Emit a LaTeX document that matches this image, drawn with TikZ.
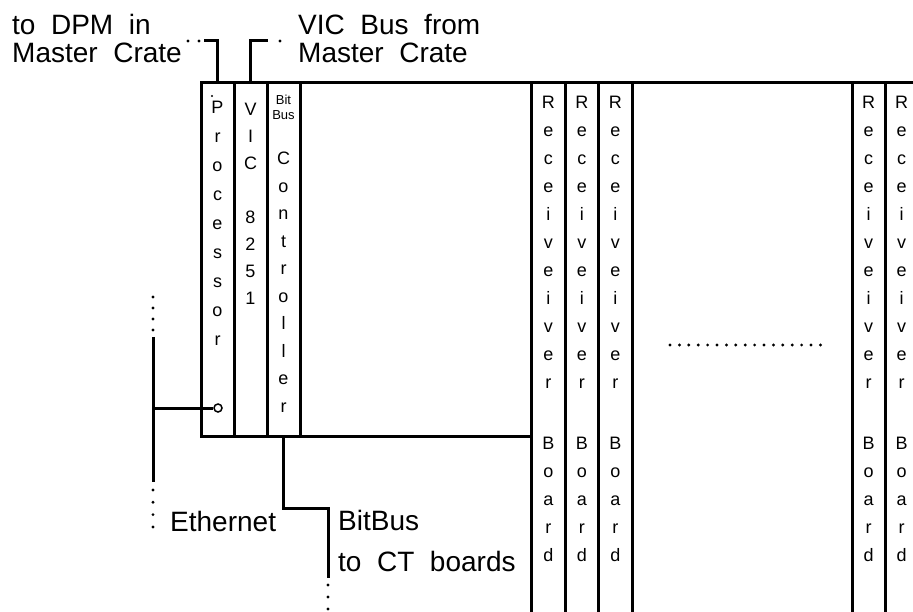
\documentclass[tikz,border=0pt]{standalone}
\usepackage{fontspec}
\setmainfont[WordSpace=2]{Liberation Sans}
\usetikzlibrary{positioning}

\begin{document}
\begin{tikzpicture}[x=1pt, y=-1pt, every node/.style={inner sep=0pt}, wire/.style={line width=3pt}, slot/.style={draw, line width=3pt, outer sep=0pt, minimum width=33pt}, lbl/.style={anchor=base west, font=\fontsize{28}{28}\selectfont}, letters/.style={anchor=north, align=center, font=\fontsize{18}{#1}\selectfont}, dotrow/.style={line width=3.2pt, line cap=round, dash pattern=on 0pt off #1}, port/.style={circle, draw, line width=1.5pt, minimum size=8pt}]
\useasboundingbox (0,0) rectangle (913,612);
% crate slots
\node[slot, minimum height=353pt] (proc) at (217.5,259.5) {};
\node[slot, minimum height=353pt, right=0pt of proc] (vic) {};
\node[slot, minimum height=353pt, right=0pt of vic] (ctrl) {};
\node[slot, minimum height=557pt, minimum width=33.5pt] (rx1) at (548.25,361.5) {};
\node[slot, minimum height=557pt, minimum width=33.5pt, right=0pt of rx1] (rx2) {};
\node[slot, minimum height=557pt, minimum width=33.5pt, right=0pt of rx2] (rx3) {};
\node[slot, minimum height=557pt] (rx4) at (868.5,361.5) {};
\node[slot, minimum height=557pt, right=0pt of rx4] (rx5) {};
\draw[wire] (proc.north west) -- (930,83);
\draw[wire] (proc.south west) -- (rx1.west |- proc.south);
% slot texts
\node[letters=29] (proctxt) at ([shift={(0,18)}]proc.north) {P\\r\\o\\c\\e\\s\\s\\o\\r};
\node[letters=27] (victxt) at ([shift={(0,20)}]vic.north) {V\\I\\C\\[27pt]8\\2\\5\\1};
\node[anchor=north, align=center, font=\fontsize{13}{15}\selectfont] (bbtxt) at ([shift={(0,12)}]ctrl.north) {Bit\\Bus};
\node[letters=27.5] (ctrltxt) at ([shift={(0,69)}]ctrl.north) {C\\o\\n\\t\\r\\o\\l\\l\\e\\r};
\node[letters=28] (rx1txt) at ([shift={(0,13)}]rx1.north) {R\\e\\c\\e\\i\\v\\e\\i\\v\\e\\r\\[33pt]B\\o\\a\\r\\d};
\node[letters=28] (rx2txt) at ([shift={(0,13)}]rx2.north) {R\\e\\c\\e\\i\\v\\e\\i\\v\\e\\r\\[33pt]B\\o\\a\\r\\d};
\node[letters=28] (rx3txt) at ([shift={(0,13)}]rx3.north) {R\\e\\c\\e\\i\\v\\e\\i\\v\\e\\r\\[33pt]B\\o\\a\\r\\d};
\node[letters=28] (rx4txt) at ([shift={(0,13)}]rx4.north) {R\\e\\c\\e\\i\\v\\e\\i\\v\\e\\r\\[33pt]B\\o\\a\\r\\d};
\node[letters=28] (rx5txt) at ([shift={(0,13)}]rx5.north) {R\\e\\c\\e\\i\\v\\e\\i\\v\\e\\r\\[33pt]B\\o\\a\\r\\d};
\fill (212,96) circle (1.2pt);
\draw[dotrow=9.4pt] (670,345) -- (820.5,345);
% master crate links
\coordinate (dpmend) at (204,41);
\coordinate (vicend) at (268,41);
\draw[wire] (proc.north) |- (dpmend);
\draw[wire] (vic.north) |- (vicend);
\draw[dotrow=11pt] (188,41) -- (199.5,41);
\draw[dotrow=11pt] (280,41) -- (280.5,41);
\node[lbl] (dpm1) at (12,35) {to DPM in};
\node[lbl] (dpm2) at (12,63) {Master Crate};
\node[lbl] (vicbus1) at (298,35) {VIC Bus from};
\node[lbl] (vicbus2) at (298,63) {Master Crate};
% ethernet
\coordinate (ethtop) at (153,337);
\coordinate (ethbot) at (153,482);
\coordinate (ethtap) at (153,408);
\node[port] (ethport) at (218,408) {};
\draw[wire] (ethtop) -- (ethbot);
\draw[wire] (ethtap) -- (ethport);
\draw[dotrow=11pt] (153,297) -- (153,330.5);
\draw[dotrow=12.3pt] (153,490) -- (153,527.5);
\node[lbl] (eth) at (170,531) {Ethernet};
% bitbus
\coordinate (bbturn) at (328,508);
\coordinate (bbend) at (328,578);
\draw[wire] (ctrl.south) |- (bbturn) -- (bbend);
\draw[dotrow=12pt] (328,585) -- (328,609.5);
\node[lbl] (bb1) at (338,530) {BitBus};
\node[lbl] (bb2) at (338,571) {to CT boards};
\end{tikzpicture}
\end{document}
